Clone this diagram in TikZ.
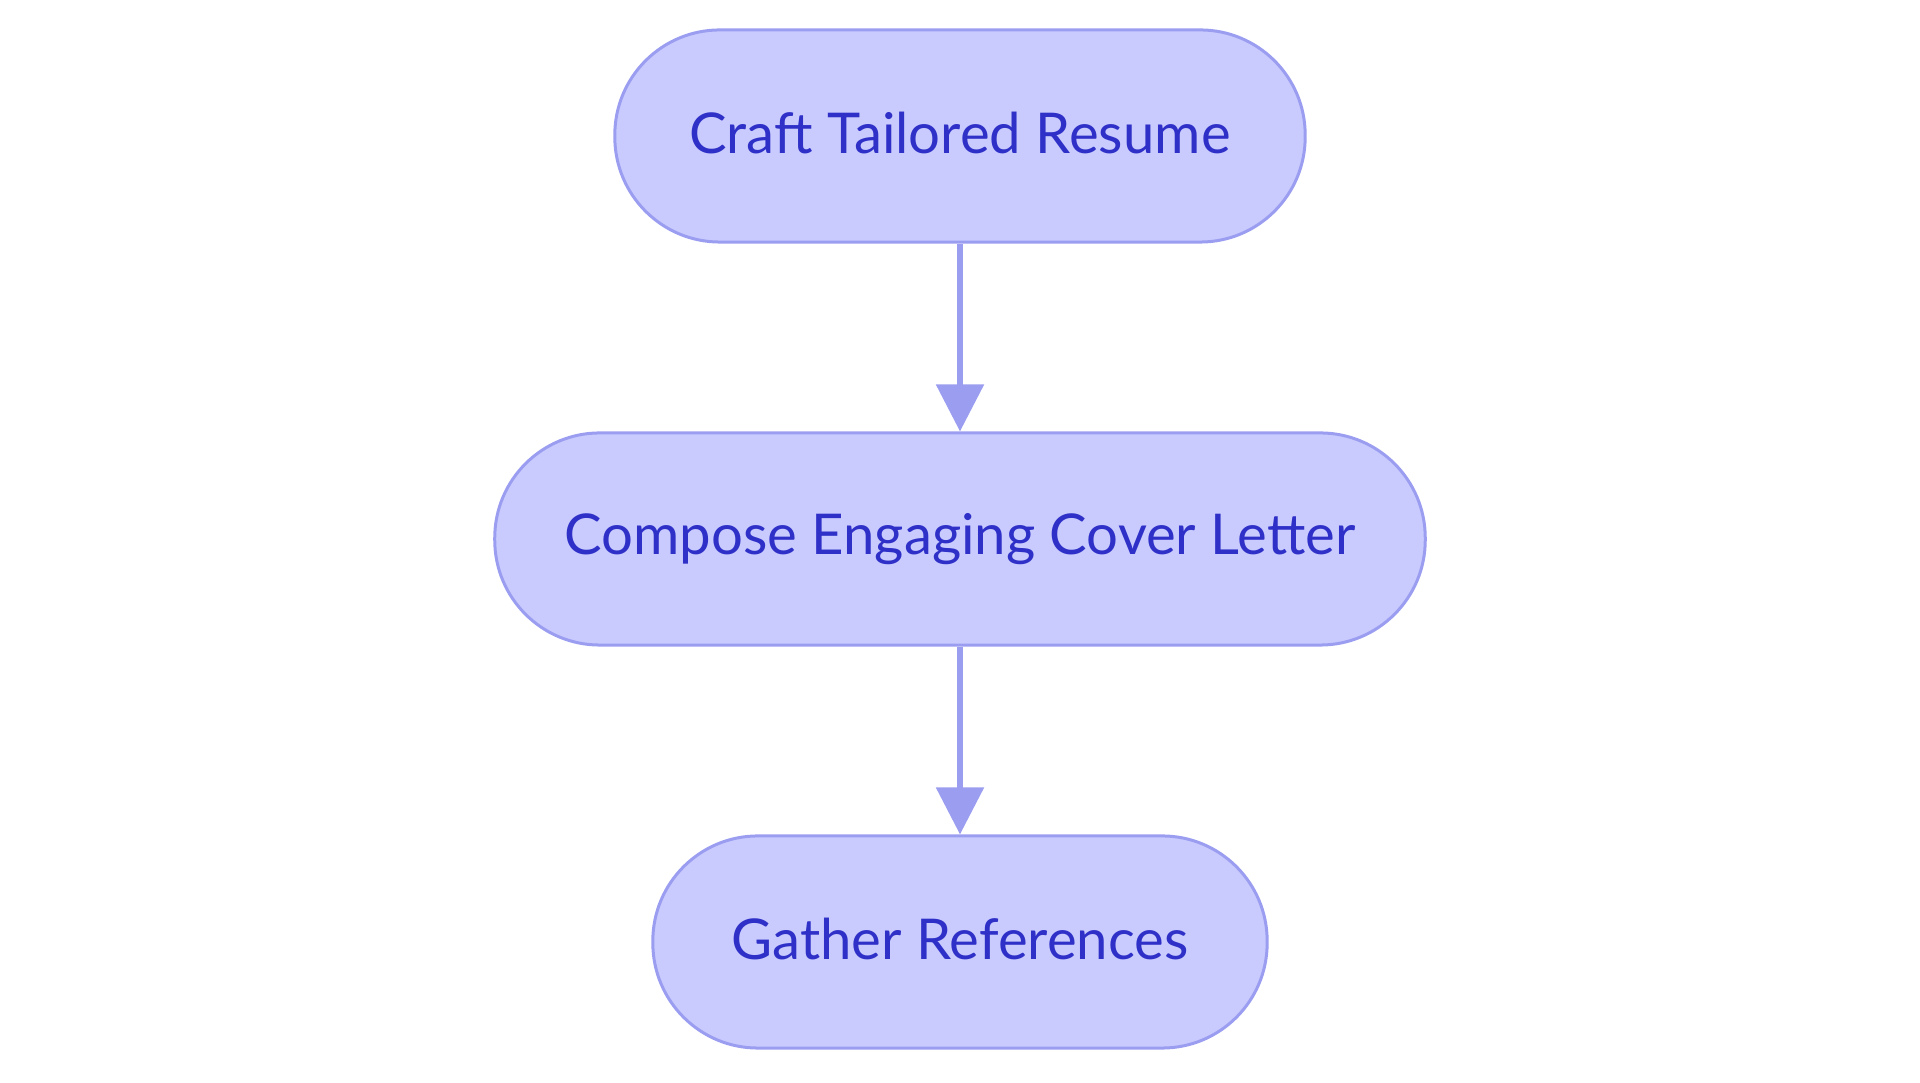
\documentclass[tikz,border=0pt]{standalone}
\usepackage{fontspec}
\setmainfont{Lato}
\usetikzlibrary{arrows.meta}
\definecolor{nodefill}{RGB}{201,203,254}
\definecolor{nodeline}{RGB}{155,158,240}
\definecolor{nodetext}{RGB}{46,48,200}
\tikzset{
  stepbox/.style={draw=nodeline, fill=nodefill, line width=0.03cm, rounded corners=1.05cm,
    minimum height=2.12cm, inner sep=0pt, text=nodetext, font=\fontsize{16pt}{19pt}\selectfont},
  flow/.style={draw=nodeline, line width=0.055cm, -{Triangle[length=0.47cm, width=0.47cm]}}
}
\begin{document}
\begin{tikzpicture}[x=0.01cm,y=-0.01cm]
\useasboundingbox (0,0) rectangle (1920,1083);
\node[stepbox, minimum width=6.9cm] (a) at (960,136) {\raisebox{2pt}{Craft Tailored Resume}};
\node[stepbox, minimum width=9.3cm] (b) at (960,539) {\raisebox{2pt}{Compose Engaging Cover Letter}};
\node[stepbox, minimum width=6.14cm] (c) at (960,942) {\raisebox{2pt}{Gather References}};
\draw[flow] (a) -- (b);
\draw[flow] (b) -- (c);
\end{tikzpicture}
\end{document}
